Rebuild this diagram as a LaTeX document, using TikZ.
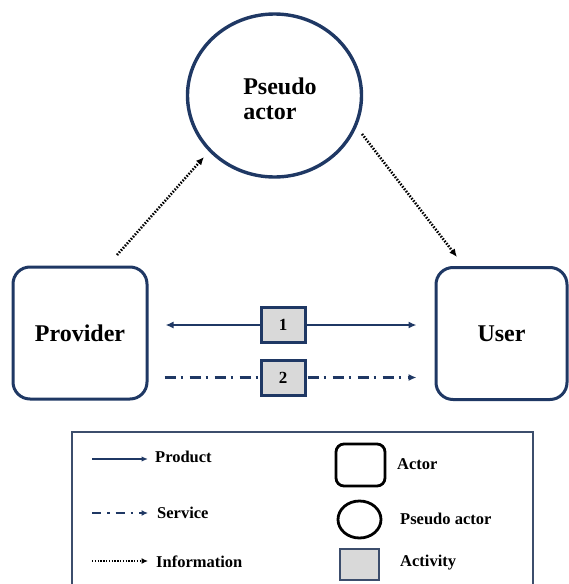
\documentclass[tikz,border=0pt]{standalone}
\usepackage{fontspec}
\setmainfont{Liberation Serif}
\usetikzlibrary{arrows.meta,shapes.geometric}
\definecolor{navy}{RGB}{31,56,100}
\definecolor{actgray}{RGB}{217,217,217}
\begin{document}
\begin{tikzpicture}[x=1pt,y=-1pt,
  actorbox/.style={draw=navy,line width=3pt,rounded corners=17pt,minimum width=134pt,minimum height=132pt,inner sep=0pt,font=\fontsize{24}{25}\selectfont\bfseries},
  actbox/.style={draw=navy,line width=3pt,fill=actgray,minimum width=44pt,minimum height=35pt,inner sep=0pt,font=\fontsize{17}{18}\selectfont\bfseries},
  prodline/.style={draw=navy,line width=2.3pt},
  servline/.style={draw=navy,line width=2.6pt,dash pattern=on 11pt off 5pt on 2.5pt off 6.5pt},
  infoline/.style={draw=black,line width=2.6pt,dash pattern=on 1.5pt off 1.5pt},
  tip/.style={-{Latex[length=8pt,width=7pt]}},
  legtext/.style={anchor=west,inner sep=0pt,font=\fontsize{16.5}{18}\selectfont\bfseries}
]
\useasboundingbox (0,0) rectangle (568,584);
% actors
\node[actorbox] (provider) at (80,333) {Provider};
\node[actorbox,minimum width=131pt] (user) at (501.5,333.5) {User};
\node[ellipse,draw=navy,line width=3.4pt,minimum width=174pt,minimum height=163pt,inner sep=0pt] (pseudo) at (274.5,95.5) {};
\node[align=left,inner sep=0pt,font=\fontsize{24}{25}\selectfont\bfseries] (pseudotext) at (280,99) {Pseudo\\actor};
% activities
\node[actbox] (act1) at (283,325) {1};
\node[actbox] (act2) at (283,377.5) {2};
% product line
\coordinate (p1l) at ([xshift=17pt]provider.east |- act1.west);
\coordinate (p1r) at ([xshift=-18pt]user.west |- act1.east);
\draw[prodline,tip] (act1.west) -- (p1l);
\draw[prodline,tip] (act1.east) -- (p1r);
% service line
\coordinate (s2l) at ([xshift=16pt]provider.east |- act2.west);
\coordinate (s2r) at ([xshift=-18pt]user.west |- act2.east);
\draw[servline] (s2l) -- (act2.west);
\draw[servline,tip] ([xshift=1pt]act2.east) -- (s2r);
% information lines
\coordinate (i1s) at (117,255);
\coordinate (i1e) at (204,157);
\coordinate (i2s) at (362,134);
\coordinate (i2e) at (457,257);
\draw[infoline,tip] (i1s) -- (i1e);
\draw[infoline,tip] (i2s) -- (i2e);
% legend frame
\draw[navy!70!gray,line width=1.2pt] (72,600) |- (533,432) -- (533,600);
% legend lines
\coordinate (lp1) at (92,459); \coordinate (lp2) at (148,459);
\coordinate (ls1) at (92,513); \coordinate (ls2) at (148,513);
\coordinate (li1) at (92,561); \coordinate (li2) at (148,561);
\draw[draw=navy,line width=1.5pt,-{Latex[length=6.5pt,width=5.5pt]}] (lp1) -- (lp2);
\draw[draw=navy,line width=2.6pt,dash pattern=on 9pt off 6pt on 2.5pt off 6pt,-{Latex[length=6.5pt,width=6pt]}] (ls1) -- (ls2);
\draw[draw=black,line width=2.3pt,dash pattern=on 1.4pt off 1.4pt,-{Latex[length=6.5pt,width=6pt]}] (li1) -- (li2);
\node[legtext] (lprod) at (155,457) {Product};
\node[legtext] (lserv) at (157,513) {Service};
\node[legtext] (linfo) at (156,562) {Information};
% legend shapes
\node[draw=black,line width=2.8pt,rounded corners=8pt,minimum width=49pt,minimum height=42pt,inner sep=0pt] (lactor) at (360.5,465) {};
\node[ellipse,draw=black,line width=2.8pt,minimum width=43pt,minimum height=37pt,inner sep=0pt] (lpseudo) at (359.5,519.5) {};
\node[draw=navy!70!gray,line width=1.2pt,fill=actgray,minimum width=39pt,minimum height=31pt,inner sep=0pt] (lact) at (359.5,564.5) {};
\node[legtext] (lactortext) at (397,464) {Actor};
\node[legtext] (lpseudotext) at (400,519) {Pseudo actor};
\node[legtext] (lacttext) at (400,563) {Activity};
\end{tikzpicture}
\end{document}
